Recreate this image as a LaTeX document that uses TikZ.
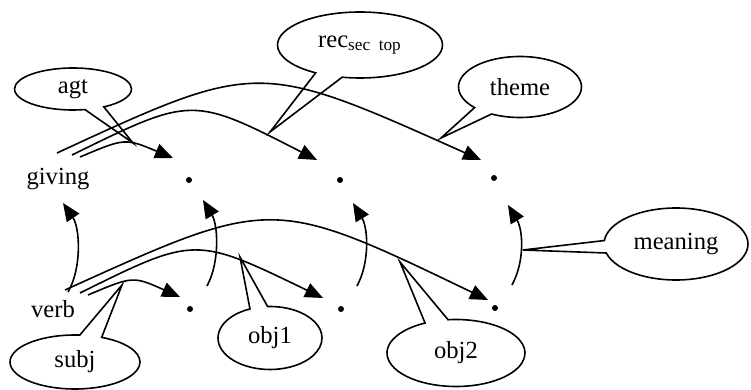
\documentclass[tikz,border=0pt]{standalone}
\usepackage{fontspec}
\setmainfont{Liberation Serif}
\usetikzlibrary{arrows.meta,shapes.callouts}

\begin{document}
\begin{tikzpicture}[x=0.5pt,y=-0.5pt,>={Triangle[length=9pt,width=7.5pt]},line width=0.8pt,
                    font=\fontsize{12.3}{14}\selectfont,
                    point/.style={circle,fill,inner sep=0pt,minimum size=3pt},
                    word/.style={inner sep=0pt},
                    bubble/.style={ellipse callout,draw,inner sep=0pt,callout pointer arc=20}]
  \useasboundingbox (0,0) rectangle (751,390);
  \node[word] (giving) at (58,179) {giving};
  \node[word] (verb) at (53,309) {verb};
  \node[point] (top1) at (189,180) {};
  \node[point] (top2) at (340,180) {};
  \node[point] (top3) at (494,178) {};
  \node[point] (low1) at (190,309) {};
  \node[point] (low2) at (341,309) {};
  \node[point] (low3) at (495,308) {};
  % giving -> upper points
  \draw[->] ([shift={(22,-22)}]giving.center) .. controls (125,138) and (125,138) .. ([shift={(-16,-22)}]top1.center);
  \draw[->] ([shift={(14,-24)}]giving.center) .. controls (192,96) and (192,96) .. ([shift={(-23,-20)}]top2.center);
  \draw[->] ([shift={(-1,-26)}]giving.center) .. controls (258,60) and (258,60) .. ([shift={(-13,-18)}]top3.center);
  % verb -> lower points
  \draw[->] ([shift={(35,-14)}]verb.center) .. controls (133,276) and (133,276) .. ([shift={(-10,-12)}]low1.center);
  \draw[->] ([shift={(27,-16)}]verb.center) .. controls (195,236) and (195,236) .. ([shift={(-18,-11)}]low2.center);
  \draw[->] ([shift={(12,-19)}]verb.center) .. controls (272,196) and (272,196) .. ([shift={(-7,-8)}]low3.center);
  % lower -> upper
  \draw[->] ([shift={(15,-17)}]verb.center) .. controls (82,268) and (80,228) .. ([shift={(5,24)}]giving.center);
  \draw[->] ([shift={(17,-23)}]low1.center) .. controls (220,262) and (218,225) .. ([shift={(14,20)}]top1.center);
  \draw[->] ([shift={(16,-23)}]low2.center) .. controls (370,262) and (368,228) .. ([shift={(13,23)}]top2.center);
  \draw[->] ([shift={(17,-23)}]low3.center) .. controls (525,261) and (523,230) .. ([shift={(14,27)}]top3.center);
  % labels
  \node[bubble,minimum width=58.5pt,minimum height=21pt,callout absolute pointer={(133,143)}] (agt) at (73,89) {agt};
  \node[bubble,minimum width=82.5pt,minimum height=33pt,callout absolute pointer={(270,132)}] (rec) at (360,45) {rec\textsubscript{sec\ \ top}};
  \node[bubble,minimum width=61.5pt,minimum height=30.5pt,callout absolute pointer={(441,138)}] (theme) at (520,87) {theme};
  \node[bubble,minimum width=72pt,minimum height=36pt,callout absolute pointer={(523,250)}] (meaning) at (676,244) {meaning};
  \node[bubble,minimum width=52pt,minimum height=31.5pt,callout absolute pointer={(240,257)}] (obj1) at (270,338) {obj1};
  \node[bubble,minimum width=69pt,minimum height=33.5pt,callout absolute pointer={(400,262)}] (obj2) at (456,353) {obj2};
  \node[bubble,minimum width=65pt,minimum height=27pt,callout absolute pointer={(122,285)}] (subj) at (75,362) {subj};
\end{tikzpicture}
\end{document}
